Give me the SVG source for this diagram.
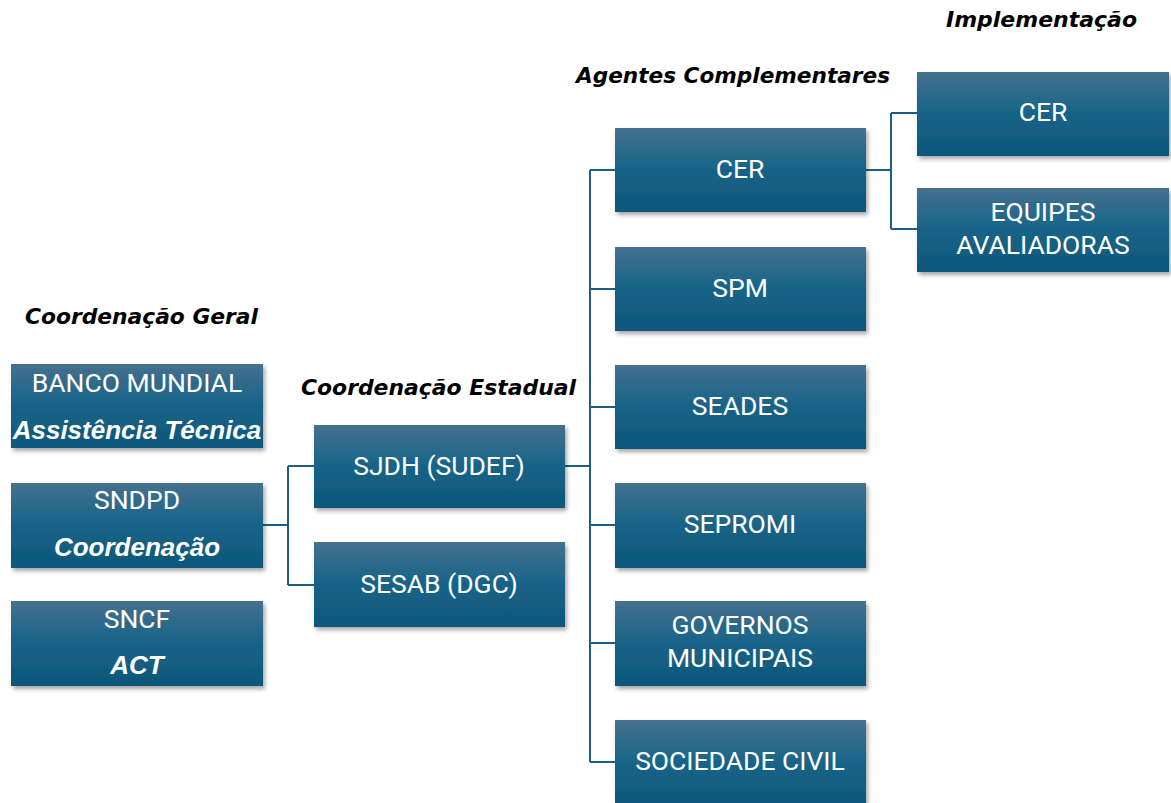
<svg xmlns="http://www.w3.org/2000/svg" width="1171" height="803" viewBox="0 0 1171 803">
<defs>
<linearGradient id="g" x1="0" y1="0" x2="0" y2="1">
<stop offset="0" stop-color="#46708e"/>
<stop offset="0.45" stop-color="#1a6589"/>
<stop offset="1" stop-color="#0c577a"/>
</linearGradient>
<filter id="sh" x="-10%" y="-10%" width="120%" height="130%">
<feDropShadow dx="2" dy="3" stdDeviation="2" flood-color="#000" flood-opacity="0.35"/>
</filter>
</defs>
<style>
.box{fill:url(#g);filter:url(#sh)}
.t{fill:#fff;font-family:Roboto,"Liberation Sans",sans-serif;font-size:26.5px;text-anchor:middle}
.ti{fill:#fff;font-family:"Liberation Sans",Arial,sans-serif;font-size:26px;font-weight:bold;font-style:italic;text-anchor:middle}
.h{fill:#000;font-family:"DejaVu Sans","Liberation Sans",sans-serif;font-size:21.5px;font-weight:bold;font-style:italic}
.c{fill:none;stroke:#1d5f80;stroke-width:2}
</style>
<rect width="1171" height="803" fill="#fff"/>
<text class="h" x="25" y="324" textLength="233" lengthAdjust="spacingAndGlyphs">Coordenação Geral</text>
<text class="h" x="301" y="395" textLength="275" lengthAdjust="spacingAndGlyphs">Coordenação Estadual</text>
<text class="h" x="576" y="83" textLength="314" lengthAdjust="spacingAndGlyphs">Agentes Complementares</text>
<text class="h" x="946" y="27" textLength="191" lengthAdjust="spacingAndGlyphs">Implementação</text>
<g id="connectors">
<path class="c" d="M263 525H288M288 466V585M288 466H314M288 585H314"/>
<path class="c" d="M565 466H590M590 170V762M590 170H615M590 289H615M590 407H615M590 525H615M590 643H615M590 762H615"/>
<path class="c" d="M866 170H891M891 113V229M891 113H917M891 229H917"/>
</g>
<g id="banco"><rect class="box" x="11" y="364" width="252" height="84"/><text class="t" x="137" y="392">BANCO MUNDIAL</text><text class="ti" x="137" y="439">Assistência Técnica</text></g>
<g id="sndpd"><rect class="box" x="11" y="483" width="252" height="85"/><text class="t" x="137" y="509">SNDPD</text><text class="ti" x="137" y="556">Coordenação</text></g>
<g id="sncf"><rect class="box" x="11" y="601" width="252" height="85"/><text class="t" x="137" y="628">SNCF</text><text class="ti" x="137" y="674">ACT</text></g>
<g id="sjdh"><rect class="box" x="314" y="425" width="251" height="83"/><text class="t" x="439" y="475">SJDH (SUDEF)</text></g>
<g id="sesab"><rect class="box" x="314" y="542" width="251" height="85"/><text class="t" x="439" y="593">SESAB (DGC)</text></g>
<g id="cer1"><rect class="box" x="615" y="128" width="251" height="84"/><text class="t" x="740" y="178">CER</text></g>
<g id="spm"><rect class="box" x="615" y="247" width="251" height="84"/><text class="t" x="740" y="297">SPM</text></g>
<g id="seades"><rect class="box" x="615" y="365" width="251" height="84"/><text class="t" x="740" y="415">SEADES</text></g>
<g id="sepromi"><rect class="box" x="615" y="483" width="251" height="85"/><text class="t" x="740" y="533">SEPROMI</text></g>
<g id="governos"><rect class="box" x="615" y="601" width="251" height="85"/><text class="t" x="740" y="634">GOVERNOS</text><text class="t" x="740" y="667">MUNICIPAIS</text></g>
<g id="sociedade"><rect class="box" x="615" y="720" width="251" height="90"/><text class="t" x="740" y="770">SOCIEDADE CIVIL</text></g>
<g id="cer2"><rect class="box" x="917" y="72" width="252" height="84"/><text class="t" x="1043" y="121">CER</text></g>
<g id="equipes"><rect class="box" x="917" y="188" width="252" height="84"/><text class="t" x="1043" y="221">EQUIPES</text><text class="t" x="1043" y="254">AVALIADORAS</text></g>
</svg>
